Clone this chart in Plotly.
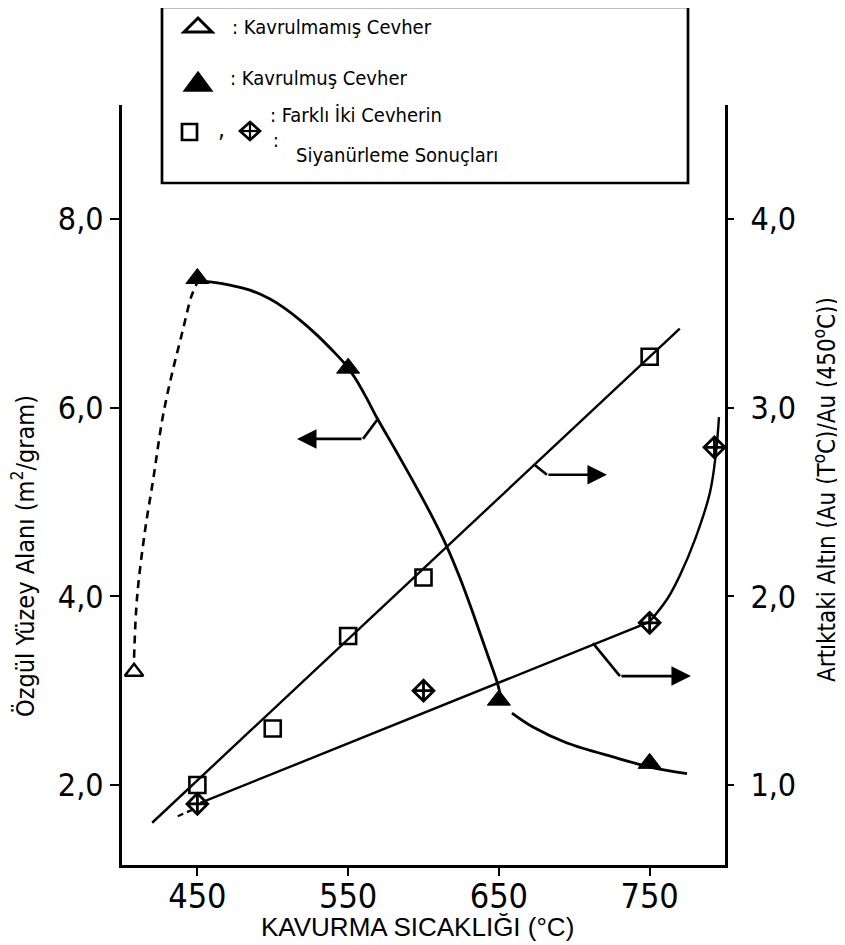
import plotly.graph_objects as go

# page is offset by the default 8px body margin
OFF = 8
W, H = 845 - OFF, 945 - OFF
L, T = 122 - OFF, 105 - OFF
PW, PH = 603, 760
R, B = W - L - PW, H - T - PH

# ---------------- data ----------------
x_ticks = [450, 550, 650, 750]
x_tick_text = ["450", "550", "650", "750"]
left_ticks = [2, 4, 6, 8]
left_tick_text = ["2,0", "4,0", "6,0", "8,0"]
right_ticks = [1, 2, 3, 4]
right_tick_text = ["1,0", "2,0", "3,0", "4,0"]

# specific surface area (left axis, m2/gram)
unroasted_temp = [408]
unroasted_area = [3.2]
roasted_temp = [450, 550, 650, 750]
roasted_area = [7.37, 6.42, 2.90, 2.23]

# hand drawn trend curves
dashed_curve_temp = [408, 410, 415.3, 420.6, 427, 433, 440, 446, 449.7]
dashed_curve_area = [3.35, 3.99, 4.70, 5.23, 5.9, 6.35, 6.8, 7.18, 7.32]
roast_upper_temp = [451.7, 459.7, 471.6, 484.9, 498.2, 506.8, 518.1, 529.4, 540.0, 548.0,
                    554.6, 561.9, 569.2, 581.1, 592.4, 604.3, 615.6, 624.2, 632.8, 642.1,
                    648.8, 650.7]
roast_upper_area = [7.343, 7.332, 7.300, 7.247, 7.152, 7.067, 6.929, 6.770, 6.601, 6.463,
                    6.315, 6.113, 5.891, 5.560, 5.240, 4.890, 4.523, 4.194, 3.823, 3.399,
                    3.092, 2.975]
roast_lower_temp = [658.7, 672.6, 695.2, 728.4, 750.3, 774.8]
roast_lower_area = [2.763, 2.615, 2.445, 2.286, 2.19, 2.12]

# residual gold ratio (right axis)
square_temp = [450, 500, 550, 600, 750]
square_gold = [1.00, 1.30, 1.79, 2.10, 3.27]
square_line_temp = [420, 770]
square_line_gold = [0.80, 3.42]

diamond_temp = [450, 600, 750, 793]
diamond_gold = [0.90, 1.50, 1.86, 2.79]
diamond_dash_temp = [437, 447]
diamond_dash_gold = [0.835, 0.87]
diamond_line_temp = [452, 750]
diamond_line_gold = [0.905, 1.865]
diamond_curve_temp = [750, 762, 770, 780, 790, 794, 796]
diamond_curve_gold = [1.865, 1.99, 2.11, 2.30, 2.55, 2.76, 2.95]

X_RANGE = [400, 800]
LEFT_RANGE = [1.152, 9.21]
RIGHT_RANGE = [LEFT_RANGE[0] / 2, LEFT_RANGE[1] / 2]

FONT = "DejaVu Sans Condensed, DejaVu Sans, sans-serif"
BLACK = "#000000"


def px(xp):  # page pixel -> paper x
    return (xp - 122) / PW


def py(yp):  # page pixel -> paper y
    return (865 - yp) / PH


fig = go.Figure()

fig.add_trace(go.Scatter(x=dashed_curve_temp, y=dashed_curve_area, mode="lines",
                         line=dict(color=BLACK, width=2.6, dash="8px,6px", shape="spline"),
                         hoverinfo="skip"))
fig.add_trace(go.Scatter(x=roast_upper_temp, y=roast_upper_area, mode="lines",
                         line=dict(color=BLACK, width=2.8, shape="spline", smoothing=0.8),
                         hoverinfo="skip"))
fig.add_trace(go.Scatter(x=roast_lower_temp, y=roast_lower_area, mode="lines",
                         line=dict(color=BLACK, width=2.8, shape="spline"), hoverinfo="skip"))
fig.add_trace(go.Scatter(x=unroasted_temp, y=unroasted_area, mode="markers",
                         marker=dict(symbol="triangle-up-open", size=16, color=BLACK,
                                     line=dict(width=2.5, color=BLACK)),
                         cliponaxis=False))
fig.add_trace(go.Scatter(x=roasted_temp, y=roasted_area, mode="markers",
                         marker=dict(symbol="triangle-up", size=20, color=BLACK,
                                     line=dict(width=1, color=BLACK))))

# right axis series
fig.add_trace(go.Scatter(x=square_line_temp, y=square_line_gold, mode="lines", yaxis="y2",
                         line=dict(color=BLACK, width=2.4), hoverinfo="skip"))
fig.add_trace(go.Scatter(x=diamond_dash_temp, y=diamond_dash_gold, mode="lines", yaxis="y2",
                         line=dict(color=BLACK, width=2.2, dash="6px,4px"), hoverinfo="skip"))
fig.add_trace(go.Scatter(x=diamond_line_temp, y=diamond_line_gold, mode="lines", yaxis="y2",
                         line=dict(color=BLACK, width=2.4), hoverinfo="skip"))
fig.add_trace(go.Scatter(x=diamond_curve_temp, y=diamond_curve_gold, mode="lines", yaxis="y2",
                         line=dict(color=BLACK, width=2.4, shape="spline"), hoverinfo="skip"))
fig.add_trace(go.Scatter(x=square_temp, y=square_gold, mode="markers", yaxis="y2",
                         marker=dict(symbol="square-open", size=16, color=BLACK,
                                     line=dict(width=2.6, color=BLACK))))
fig.add_trace(go.Scatter(x=diamond_temp, y=diamond_gold, mode="markers", yaxis="y2",
                         marker=dict(symbol="diamond-cross-open", size=16, color=BLACK,
                                     line=dict(width=2.8, color=BLACK)),
                         cliponaxis=False))

annotations = []
shapes = []


def text(xp, yp, s, size=20, anchor="left", angle=0, family=FONT):
    annotations.append(dict(x=px(xp), y=py(yp), xref="paper", yref="paper", text=s,
                            showarrow=False, xanchor=anchor, yanchor="middle",
                            textangle=angle, font=dict(family=family, size=size, color=BLACK)))


def path(points, close=True, fill=None, width=2.7):
    d = "M " + " L ".join(f"{px(a):.5f},{py(b):.5f}" for a, b in points)
    if close:
        d += " Z"
    shapes.append(dict(type="path", xref="paper", yref="paper", path=d,
                       line=dict(color=BLACK, width=width),
                       fillcolor=fill if fill else "rgba(0,0,0,0)"))


# legend box and symbols
shapes.append(dict(type="rect", xref="paper", yref="paper", x0=px(162), x1=px(688),
                   y0=py(183), y1=py(7), line=dict(color=BLACK, width=2.7)))
path([(184, 32), (212, 32), (198, 18)], width=3)
path([(184, 91), (212, 91), (198, 72)], fill=BLACK, width=1.5)
path([(182, 124), (197, 124), (197, 140), (182, 140)], width=2.7)
path([(250, 122), (260, 131), (250, 140), (240, 131)], width=2.7)
path([(250, 122), (250, 140)], close=False, width=2.2)
path([(240, 131), (260, 131)], close=False, width=2.2)

text(230, 27, ": Kavrulmamış Cevher")
text(228, 78, ": Kavrulmuş Cevher")
text(268, 115, ": Farklı İki Cevherin")
text(294, 155, "Siyanürleme Sonuçları")
text(221, 129, ",", size=24, anchor="center")
text(276, 140, ":", size=19, anchor="center")

# axis titles
text(23, 556, "Özgül Yüzey Alanı (m<sup>2</sup>/gram)", size=25, anchor="center", angle=-90)
text(825, 490, "Artıktaki Altın (Au (T<sup>o</sup>C)/Au (450<sup>o</sup>C))", size=24,
     anchor="center", angle=-90)
text(417, 927, "KAVURMA SICAKLIĞI (°C)", size=26, anchor="center",
     family="Liberation Sans, sans-serif")

# arrows (left-axis data coordinates)
arrows = [
    dict(leader=((569.2, 5.87), (559.9, 5.67)), tip=(516.1, 5.67)),
    dict(leader=((674.0, 5.39), (681.9, 5.29)), tip=(721.7, 5.29)),
    dict(leader=((712.4, 3.505), (730.3, 3.155)), tip=(777.4, 3.155)),
]
for a in arrows:
    (x0, y0), (x1, y1) = a["leader"]
    shapes.append(dict(type="line", xref="x", yref="y", x0=x0, y0=y0, x1=x1, y1=y1,
                       line=dict(color=BLACK, width=2.6)))
    annotations.append(dict(x=a["tip"][0], y=a["tip"][1], ax=x1, ay=y1, xref="x", yref="y",
                            axref="x", ayref="y", text="", showarrow=True, arrowhead=2,
                            arrowsize=1.5, arrowwidth=2.6, arrowcolor=BLACK, standoff=0))

tickfont = dict(family=FONT, size=32, color=BLACK)

fig.update_layout(
    width=W, height=H,
    margin=dict(l=L, r=R, t=T, b=B, pad=0),
    paper_bgcolor="white", plot_bgcolor="white",
    showlegend=False,
    xaxis=dict(range=X_RANGE, tickvals=x_ticks, ticktext=x_tick_text, showline=True,
               linewidth=3, linecolor=BLACK, ticks="outside", ticklen=8, tickwidth=2,
               tickcolor=BLACK, showgrid=False, zeroline=False,
               tickfont=dict(family=FONT, size=34, color=BLACK), ticklabelstandoff=-9),
    yaxis=dict(range=LEFT_RANGE, tickvals=left_ticks, ticktext=left_tick_text, showline=True,
               linewidth=3, linecolor=BLACK, ticks="outside", ticklen=9, tickwidth=2,
               tickcolor=BLACK, showgrid=False, zeroline=False, tickfont=tickfont,
               ticklabelstandoff=0),
    yaxis2=dict(range=RIGHT_RANGE, tickvals=right_ticks, ticktext=right_tick_text,
                overlaying="y", side="right", showline=True, linewidth=3, linecolor=BLACK,
                ticks="outside", ticklen=6, tickwidth=2, tickcolor=BLACK, showgrid=False,
                zeroline=False, tickfont=tickfont, ticklabelstandoff=10),
    annotations=annotations,
    shapes=shapes,
)

fig.write_html("out.html")
